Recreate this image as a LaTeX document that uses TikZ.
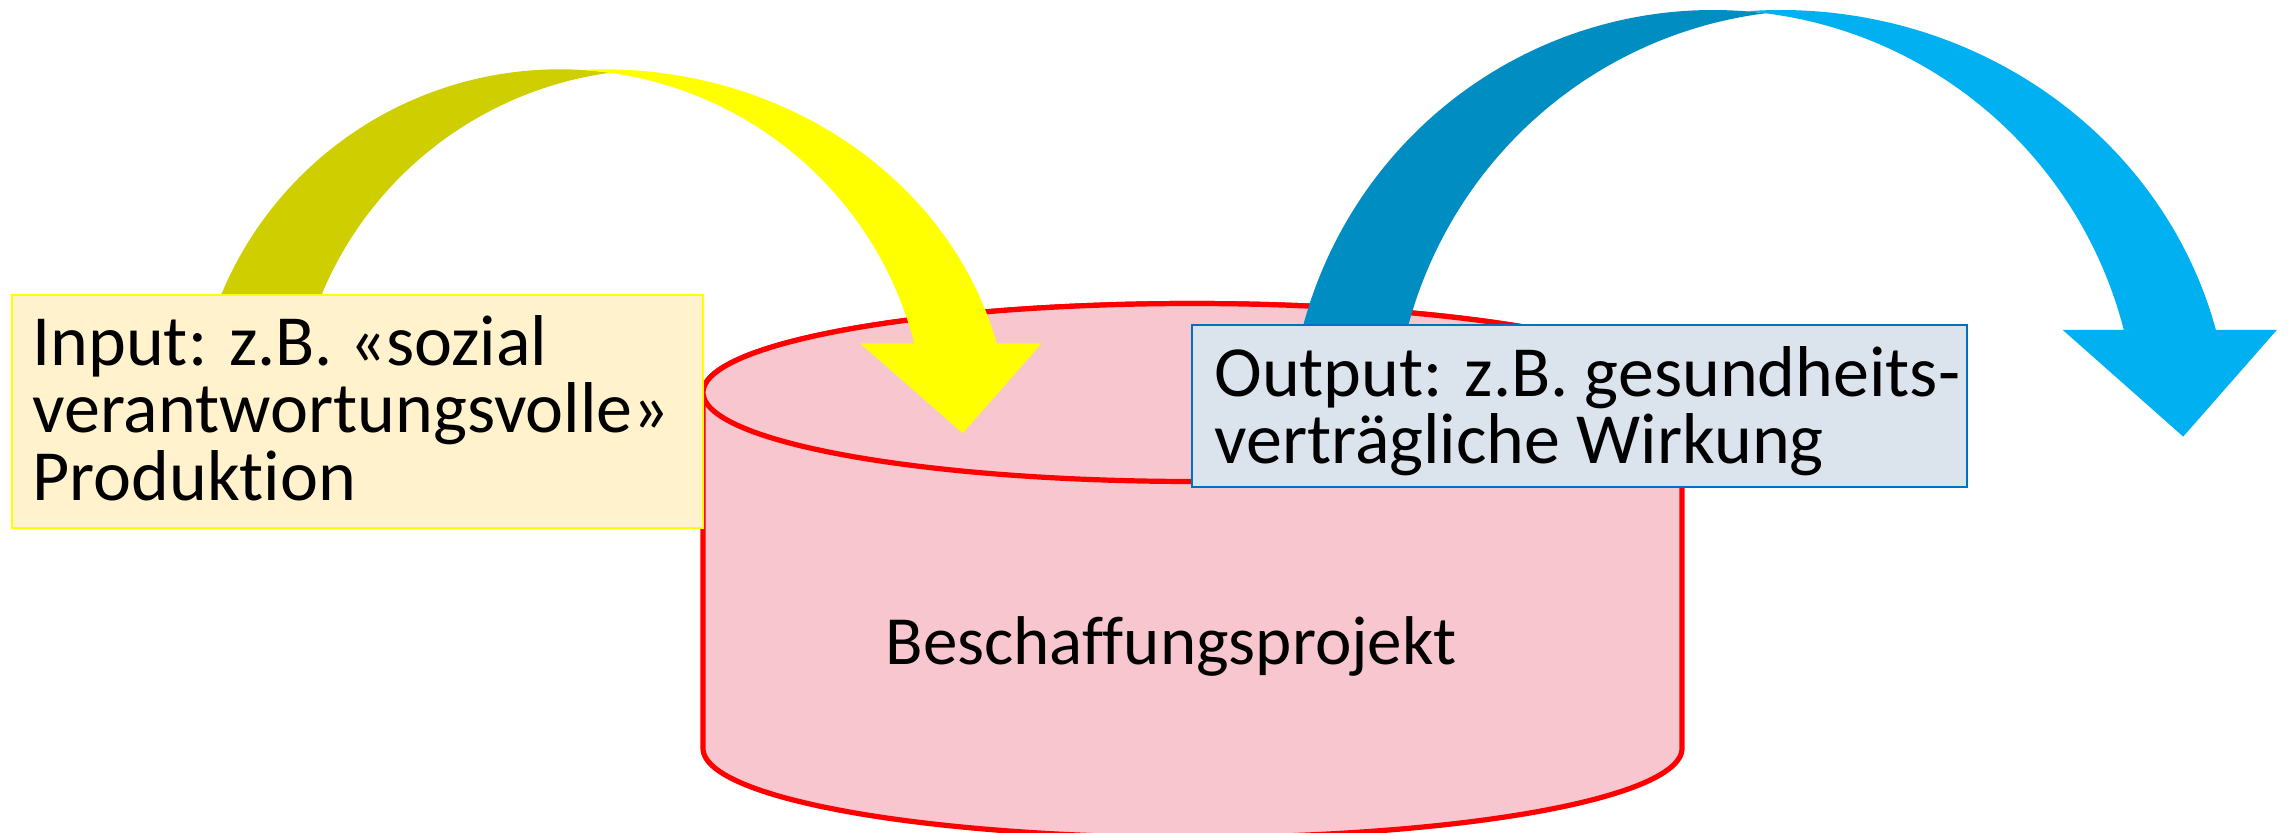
\documentclass[tikz,border=0pt]{standalone}
\usepackage{fontspec}
\setmainfont[Ligatures=NoCommon]{Carlito}

\definecolor{arrowYellow}{RGB}{255,255,0}
\definecolor{arrowYellowBack}{RGB}{206,206,0}
\definecolor{arrowBlue}{RGB}{0,176,240}
\definecolor{arrowBlueBack}{RGB}{0,141,194}
\definecolor{drumFill}{RGB}{248,198,206}
\definecolor{drumLine}{RGB}{255,0,0}
\definecolor{inFill}{RGB}{255,242,204}
\definecolor{inLine}{RGB}{255,255,0}
\definecolor{outFill}{RGB}{219,227,237}
\definecolor{outLine}{RGB}{0,112,192}

\tikzset{
  drum/.style={fill=drumFill, draw=drumLine, line width=2.6pt, line join=round},
  labelbox/.style={rectangle, inner sep=0pt, outer sep=0pt, line width=0.8pt, anchor=north west},
  boxtext/.style={anchor=base west, align=left, inner sep=0pt, font=\fontsize{36}{33.8}\selectfont},
  drumtext/.style={anchor=base, inner sep=0pt, font=\fontsize{34.5}{40}\selectfont},
}

% Curved ribbon arrow built from three ellipses that share centre height \ribCy
% and vertical radius \ribRy:
%   A (centre \ribAc, radius \ribAr): outer edge of the rear band, inner edge of the front band
%   B (centre \ribBc, radius \ribBr): inner edge of the rear band
%   C (centre \ribCc, radius \ribCr): outer edge of the front band
% \ribYone: y of the head base, \ribXl/\ribXr: head corners, \ribTip: tip x (tip y = \ribCy).
\newcommand{\drawribbon}[2]{%
  \pgfmathsetmacro{\ribTx}{acos((\ribBc-\ribAc)/(\ribAr+\ribBr))}%
  \pgfmathsetmacro{\ribTxb}{180-\ribTx}%
  \pgfmathsetmacro{\ribTm}{acos((\ribCc-\ribAc)/(\ribAr+\ribCr))}%
  \pgfmathsetmacro{\ribTmb}{180-\ribTm}%
  \pgfmathsetmacro{\ribTo}{asin((\ribCy-\ribYone)/\ribRy)}%
  % rear band, from the foot up to the twist
  \fill[#2] plot[domain=180:\ribTx, samples=100] ({\ribAc+\ribAr*cos(\x)},{\ribCy-\ribRy*sin(\x)})
     -- plot[domain=\ribTxb:180, samples=100] ({\ribBc+\ribBr*cos(\x)},{\ribCy-\ribRy*sin(\x)})
     -- cycle;
  % front band with the arrow head
  \fill[#1] (\ribTip,\ribCy) -- (\ribXl,\ribYone)
     -- plot[domain=\ribTo:\ribTm, samples=100] ({\ribAc+\ribAr*cos(\x)},{\ribCy-\ribRy*sin(\x)})
     -- plot[domain=\ribTmb:\ribTo, samples=100] ({\ribCc+\ribCr*cos(\x)},{\ribCy-\ribRy*sin(\x)})
     -- (\ribXr,\ribYone) -- cycle;
}

\begin{document}
\begin{tikzpicture}[x=0.5pt, y=-0.5pt]
  \useasboundingbox (0,0) rectangle (2288,833);
  \fill[white] (0,0) rectangle (2288,833);

  % project drum (cylinder)
  \filldraw[drum] (703,392.5)
     -- plot[domain=180:360, samples=120] ({1192.5+489.5*cos(\x)},{748.5-89*sin(\x)})
     -- plot[domain=0:180, samples=120] ({1192.5+489.5*cos(\x)},{392.5-89*sin(\x)})
     -- cycle;
  \filldraw[drum] plot[domain=0:360, samples=160] ({1192.5+489.5*cos(\x)},{392.5-89*sin(\x)}) -- cycle;
  \node[drumtext] (drumlabel) at (1171,665) {Beschaffungsprojekt};

  % input arrow
  \def\ribCy{433.3}\def\ribRy{364}
  \def\ribAc{559.6}\def\ribAr{366}
  \def\ribBc{660}\def\ribBr{366}
  \def\ribCc{603.7}\def\ribCr{405.6}
  \def\ribYone{343.3}\def\ribXl{860}\def\ribXr{1041.7}\def\ribTip{962.7}
  \drawribbon{arrowYellow}{arrowYellowBack}

  % output arrow
  \def\ribCy{436.6}\def\ribRy{426.6}
  \def\ribAc{1712.9}\def\ribAr{424.4}
  \def\ribBc{1818}\def\ribBr{424.4}
  \def\ribCc{1780.8}\def\ribCr{449.4}
  \def\ribYone{329.9}\def\ribXl{2062.7}\def\ribXr{2276.9}\def\ribTip{2183.2}
  \drawribbon{arrowBlue}{arrowBlueBack}

  % label boxes
  \node[labelbox, fill=inFill, draw=inLine, minimum width=345.5pt, minimum height=116.5pt] (inbox) at (12,295) {};
  \node[boxtext] (intext) at (32,500.4) {Input: z.B. «sozial\\verantwortungsvolle»\\Produktion};

  \node[labelbox, fill=outFill, draw=outLine, minimum width=387.5pt, minimum height=81pt] (outbox) at (1192,325) {};
  \node[boxtext] (outtext) at (1214,464) {Output: z.B. gesundheits-\\verträgliche Wirkung};
\end{tikzpicture}
\end{document}
